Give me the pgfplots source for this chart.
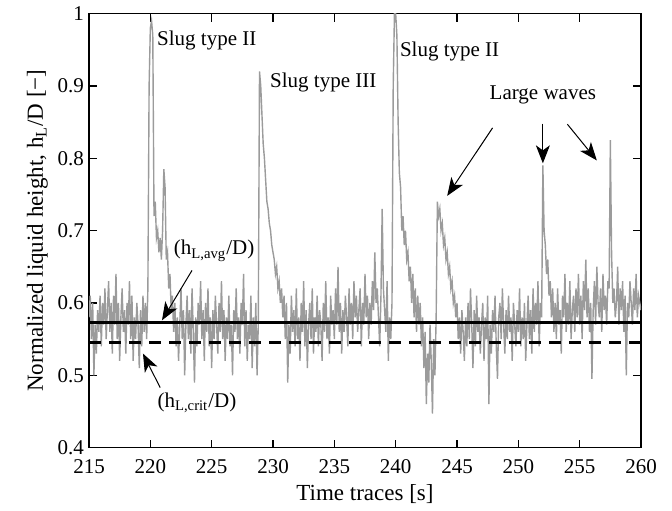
\documentclass[border=0pt]{standalone}
\usepackage{fontspec}
\setmainfont{Liberation Serif}
\usepackage{pgfplots}
\pgfplotsset{compat=1.18}
\usetikzlibrary{arrows.meta}
\definecolor{sig}{RGB}{155,155,155}
\begin{document}
\begin{tikzpicture}
\begin{axis}[
  width=276pt, height=217pt, scale only axis,
  xmin=215, xmax=260, ymin=0.4, ymax=1,
  xtick={215,220,...,260},
  ytick={0.4,0.5,0.6,0.7,0.8,0.9,1},
  yticklabels={0.4,0.5,0.6,0.7,0.8,0.9,1},
  tick align=inside, major tick length=4pt,
  tick style={black, line width=0.6pt},
  axis line style={black, line width=0.8pt},
  /pgf/number format/assume math mode=true,
  every tick label/.append style={font=\fontsize{10.5}{12}\selectfont},
  xticklabel style={yshift=-2.5pt},
  yticklabel style={xshift=1pt},
  xlabel={Time traces [s]},
  ylabel={Normalized liquid height, h\textsubscript{L}/D [−]},
  label style={font=\fontsize{11.5}{13}\selectfont},
  xlabel style={yshift=1.5pt},
  ylabel style={yshift=-2pt},
  clip=true,
]
\addplot[sig, line width=0.7pt] coordinates {
(215.0,0.58)(215.1,0.61)(215.2,0.55)(215.3,0.60)(215.4,0.50)(215.5,0.57)(215.6,0.53)(215.7,0.59)(215.8,0.56)(215.9,0.61)
(216.0,0.54)(216.1,0.60)(216.2,0.57)(216.3,0.62)(216.4,0.55)(216.5,0.59)(216.6,0.63)(216.7,0.56)(216.8,0.60)(216.9,0.53)
(217.0,0.61)(217.1,0.57)(217.2,0.64)(217.3,0.55)(217.4,0.60)(217.5,0.52)(217.6,0.58)(217.7,0.62)(217.8,0.56)(217.9,0.59)
(218.0,0.53)(218.1,0.60)(218.2,0.57)(218.3,0.63)(218.4,0.55)(218.5,0.61)(218.6,0.52)(218.7,0.58)(218.8,0.55)(218.9,0.60)
(219.0,0.57)(219.1,0.51)(219.2,0.59)(219.3,0.54)(219.4,0.61)(219.5,0.56)(219.6,0.60)(219.7,0.55)(219.8,0.62)(219.9,0.90)
(220.0,0.98)(220.1,0.99)(220.2,0.97)(220.3,0.72)(220.4,0.74)(220.5,0.69)(220.6,0.70)(220.7,0.67)(220.8,0.69)(220.9,0.66)
(221.0,0.70)(221.1,0.785)(221.2,0.76)(221.3,0.66)(221.4,0.67)(221.5,0.62)(221.6,0.64)(221.7,0.59)(221.8,0.61)(221.9,0.56)
(222.0,0.60)(222.1,0.54)(222.2,0.58)(222.3,0.52)(222.4,0.57)(222.5,0.62)(222.6,0.55)(222.7,0.59)(222.8,0.50)(222.9,0.57)
(223.0,0.61)(223.1,0.55)(223.2,0.59)(223.3,0.53)(223.4,0.62)(223.5,0.56)(223.6,0.49)(223.7,0.58)(223.8,0.54)(223.9,0.60)
(224.0,0.57)(224.1,0.63)(224.2,0.55)(224.3,0.59)(224.4,0.52)(224.5,0.60)(224.6,0.56)(224.7,0.62)(224.8,0.54)(224.9,0.58)
(225.0,0.51)(225.1,0.59)(225.2,0.55)(225.3,0.61)(225.4,0.57)(225.5,0.53)(225.6,0.60)(225.7,0.56)(225.8,0.63)(225.9,0.55)
(226.0,0.59)(226.1,0.52)(226.2,0.58)(226.3,0.55)(226.4,0.61)(226.5,0.54)(226.6,0.57)(226.7,0.50)(226.8,0.59)(226.9,0.56)
(227.0,0.62)(227.1,0.55)(227.2,0.58)(227.3,0.53)(227.4,0.60)(227.5,0.57)(227.6,0.64)(227.7,0.54)(227.8,0.59)(227.9,0.52)
(228.0,0.57)(228.1,0.55)(228.2,0.61)(228.3,0.51)(228.4,0.58)(228.5,0.54)(228.6,0.60)(228.7,0.50)(228.8,0.57)(228.9,0.92)
(229.0,0.90)(229.1,0.86)(229.2,0.82)(229.3,0.80)(229.4,0.77)(229.5,0.74)(229.6,0.73)(229.7,0.71)(229.8,0.70)(229.9,0.68)
(230.0,0.67)(230.1,0.66)(230.2,0.64)(230.3,0.65)(230.4,0.62)(230.5,0.63)(230.6,0.60)(230.7,0.62)(230.8,0.58)(230.9,0.61)
(231.0,0.55)(231.1,0.60)(231.2,0.49)(231.3,0.57)(231.4,0.53)(231.5,0.61)(231.6,0.56)(231.7,0.59)(231.8,0.54)(231.9,0.62)
(232.0,0.55)(232.1,0.58)(232.2,0.52)(232.3,0.60)(232.4,0.56)(232.5,0.63)(232.6,0.54)(232.7,0.59)(232.8,0.51)(232.9,0.57)
(233.0,0.60)(233.1,0.55)(233.2,0.62)(233.3,0.53)(233.4,0.58)(233.5,0.56)(233.6,0.61)(233.7,0.54)(233.8,0.59)(233.9,0.57)
(234.0,0.52)(234.1,0.60)(234.2,0.56)(234.3,0.63)(234.4,0.55)(234.5,0.58)(234.6,0.53)(234.7,0.61)(234.8,0.57)(234.9,0.59)
(235.0,0.55)(235.1,0.62)(235.2,0.57)(235.3,0.65)(235.4,0.56)(235.5,0.60)(235.6,0.53)(235.7,0.59)(235.8,0.56)(235.9,0.61)
(236.0,0.58)(236.1,0.54)(236.2,0.62)(236.3,0.57)(236.4,0.60)(236.5,0.55)(236.6,0.63)(236.7,0.58)(236.8,0.61)(236.9,0.56)
(237.0,0.59)(237.1,0.62)(237.2,0.54)(237.3,0.60)(237.4,0.57)(237.5,0.64)(237.6,0.58)(237.7,0.61)(237.8,0.55)(237.9,0.60)
(238.0,0.57)(238.1,0.63)(238.2,0.59)(238.3,0.67)(238.4,0.60)(238.5,0.62)(238.6,0.58)(238.7,0.54)(238.8,0.61)(238.9,0.73)
(239.0,0.62)(239.1,0.59)(239.2,0.56)(239.3,0.63)(239.4,0.52)(239.5,0.58)(239.6,0.55)(239.7,0.60)(239.8,0.90)(239.9,1.00)
(240.0,1.00)(240.1,0.97)(240.2,0.85)(240.3,0.78)(240.4,0.76)(240.5,0.70)(240.6,0.72)(240.7,0.68)(240.8,0.70)(240.9,0.66)
(241.0,0.67)(241.1,0.63)(241.2,0.65)(241.3,0.60)(241.4,0.64)(241.5,0.58)(241.6,0.62)(241.7,0.56)(241.8,0.61)(241.9,0.57)
(242.0,0.60)(242.1,0.54)(242.2,0.58)(242.3,0.51)(242.4,0.56)(242.5,0.46)(242.6,0.53)(242.7,0.49)(242.8,0.57)(242.9,0.52)
(243.0,0.447)(243.1,0.55)(243.2,0.50)(243.3,0.58)(243.4,0.74)(243.5,0.72)(243.6,0.73)(243.7,0.70)(243.8,0.71)(243.9,0.68)
(244.0,0.69)(244.1,0.66)(244.2,0.67)(244.3,0.64)(244.4,0.65)(244.5,0.62)(244.6,0.63)(244.7,0.60)(244.8,0.61)(244.9,0.58)
(245.0,0.60)(245.1,0.55)(245.2,0.58)(245.3,0.53)(245.4,0.59)(245.5,0.56)(245.6,0.52)(245.7,0.58)(245.8,0.54)(245.9,0.60)
(246.0,0.55)(246.1,0.62)(246.2,0.57)(246.3,0.51)(246.4,0.59)(246.5,0.54)(246.6,0.61)(246.7,0.56)(246.8,0.58)(246.9,0.53)
(247.0,0.57)(247.1,0.60)(247.2,0.52)(247.3,0.58)(247.4,0.55)(247.5,0.61)(247.6,0.46)(247.7,0.57)(247.8,0.53)(247.9,0.59)
(248.0,0.56)(248.1,0.61)(248.2,0.54)(248.3,0.495)(248.4,0.58)(248.5,0.60)(248.6,0.55)(248.7,0.62)(248.8,0.57)(248.9,0.53)
(249.0,0.59)(249.1,0.55)(249.2,0.61)(249.3,0.56)(249.4,0.58)(249.5,0.52)(249.6,0.60)(249.7,0.57)(249.8,0.54)(249.9,0.59)
(250.0,0.56)(250.1,0.62)(250.2,0.54)(250.3,0.58)(250.4,0.55)(250.5,0.60)(250.6,0.52)(250.7,0.57)(250.8,0.61)(250.9,0.55)
(251.0,0.59)(251.1,0.53)(251.2,0.62)(251.3,0.56)(251.4,0.60)(251.5,0.57)(251.6,0.63)(251.7,0.54)(251.8,0.60)(251.9,0.58)
(252.0,0.79)(252.1,0.70)(252.2,0.68)(252.3,0.64)(252.4,0.66)(252.5,0.61)(252.6,0.63)(252.7,0.58)(252.8,0.62)(252.9,0.56)
(253.0,0.60)(253.1,0.55)(253.2,0.62)(253.3,0.57)(253.4,0.59)(253.5,0.53)(253.6,0.61)(253.7,0.58)(253.8,0.64)(253.9,0.56)
(254.0,0.60)(254.1,0.57)(254.2,0.63)(254.3,0.55)(254.4,0.59)(254.5,0.61)(254.6,0.56)(254.7,0.62)(254.8,0.58)(254.9,0.64)
(255.0,0.57)(255.1,0.61)(255.2,0.55)(255.3,0.63)(255.4,0.59)(255.5,0.66)(255.6,0.58)(255.7,0.62)(255.8,0.56)(255.9,0.60)
(256.0,0.495)(256.1,0.59)(256.2,0.63)(256.3,0.57)(256.4,0.65)(256.5,0.60)(256.6,0.58)(256.7,0.62)(256.8,0.56)(256.9,0.64)
(257.0,0.59)(257.1,0.61)(257.2,0.57)(257.3,0.63)(257.4,0.62)(257.5,0.825)(257.6,0.67)(257.7,0.60)(257.8,0.62)(257.9,0.58)
(258.0,0.60)(258.1,0.65)(258.2,0.57)(258.3,0.62)(258.4,0.59)(258.5,0.63)(258.6,0.56)(258.7,0.61)(258.8,0.50)(258.9,0.60)
(259.0,0.58)(259.1,0.63)(259.2,0.60)(259.3,0.57)(259.4,0.62)(259.5,0.59)(259.6,0.64)(259.7,0.58)(259.8,0.61)(259.9,0.60)
(260.0,0.59)
};
\addplot[black, line width=1.2pt] coordinates {(215,0.573) (260,0.573)};
\addplot[black, line width=1.6pt, dash pattern=on 6pt off 4pt] coordinates {(215,0.545) (260,0.545)};

\begin{scope}[font=\fontsize{10.5}{12}\selectfont]
\node at (axis cs:224.6,0.963) {Slug type II};
\node at (axis cs:234.1,0.905) {Slug type III};
\node at (axis cs:244.4,0.947) {Slug type II};
\node at (axis cs:252.0,0.887) {Large waves};
\node at (axis cs:225.2,0.672) {(h\textsubscript{L,avg}/D)};
\node at (axis cs:223.8,0.462) {(h\textsubscript{L,crit}/D)};
\end{scope}
\tikzset{arr/.style={-{Stealth[length=9pt,width=7pt,inset=2.5pt]}, line width=0.5pt, black}}
\draw[arr] (axis cs:247.9,0.842) -- (axis cs:244.2,0.748);
\draw[arr] (axis cs:252.0,0.848) -- (axis cs:252.0,0.793);
\draw[arr] (axis cs:254.0,0.847) -- (axis cs:256.4,0.797);
\draw[arr] (axis cs:223.4,0.645) -- (axis cs:220.95,0.576);
\draw[arr] (axis cs:220.8,0.483) -- (axis cs:219.4,0.530);
\end{axis}
\path (current axis.south west) ++(-44.5pt,-27pt) rectangle ([shift={(15.5pt,6.5pt)}]current axis.north east);
\end{tikzpicture}
\end{document}
